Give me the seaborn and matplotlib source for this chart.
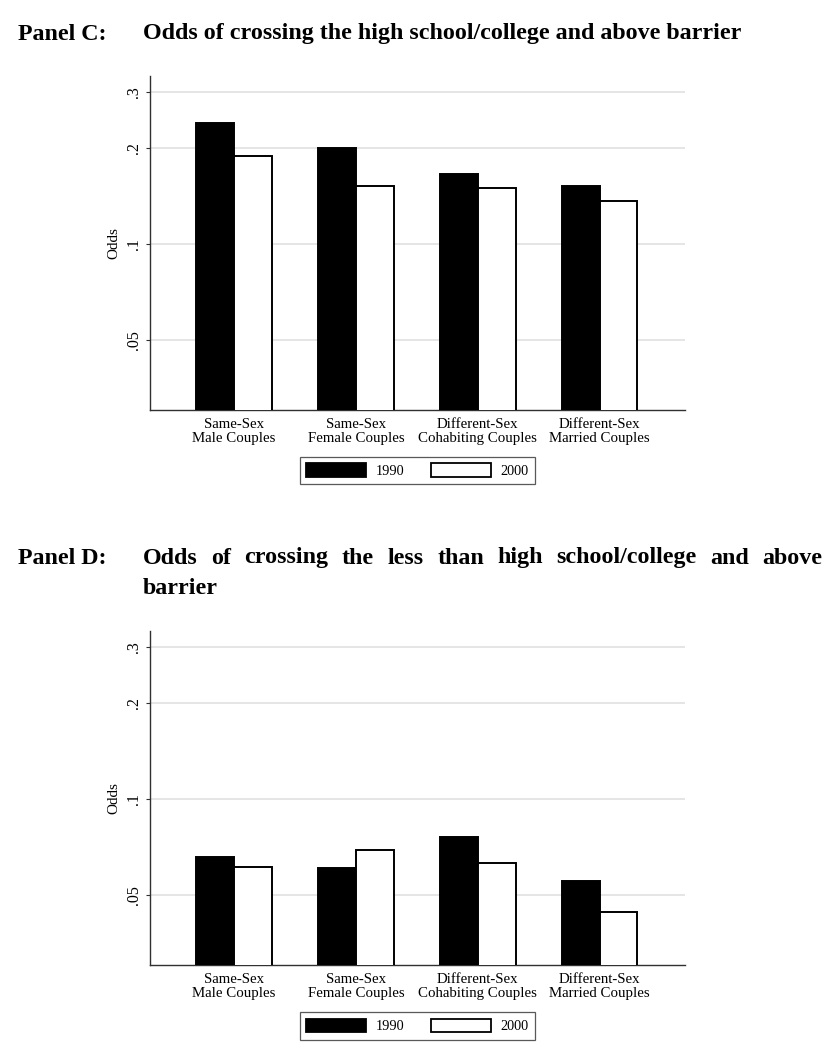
import matplotlib
matplotlib.use("Agg")
import matplotlib.pyplot as plt
from matplotlib.patches import Patch
from matplotlib.ticker import FixedLocator, FixedFormatter, NullLocator
import seaborn as sns
import pandas as pd

# ---------------- data ----------------
categories = ["Same-Sex\nMale Couples", "Same-Sex\nFemale Couples",
              "Different-Sex\nCohabiting Couples", "Different-Sex\nMarried Couples"]
years = ["1990", "2000"]
panel_c_1990 = [0.240, 0.200, 0.165, 0.152]
panel_c_2000 = [0.188, 0.152, 0.150, 0.136]
panel_d_1990 = [0.0657, 0.0606, 0.0757, 0.0552]
panel_d_2000 = [0.0612, 0.0690, 0.0627, 0.0441]
ytick_values = [0.05, 0.1, 0.2, 0.3]
ytick_labels = [".05", ".1", ".2", ".3"]
title_c_label = "Panel C:"
title_c = "Odds of crossing the high school/college and above barrier"
title_d_label = "Panel D:"
title_d_line1 = "Odds of crossing the less than high school/college and above"
title_d_line2 = "barrier"

sns.set_style("white")
plt.rcParams["font.family"] = ["Liberation Serif", "DejaVu Serif"]
plt.rcParams["text.color"] = "black"
plt.rcParams["axes.labelcolor"] = "black"
plt.rcParams["xtick.color"] = "black"
plt.rcParams["ytick.color"] = "black"

W, H = 835, 1050
fig = plt.figure(figsize=(W / 100, H / 100), dpi=100)
fig.patch.set_facecolor("white")

palette = {"1990": "black", "2000": "white"}


def make_df(v1990, v2000):
    rows = []
    for cat, a, b in zip(categories, v1990, v2000):
        rows.append({"category": cat, "year": "1990", "odds": a})
        rows.append({"category": cat, "year": "2000", "odds": b})
    return pd.DataFrame(rows)


def draw_panel(ax, v1990, v2000):
    df = make_df(v1990, v2000)
    sns.barplot(data=df, x="category", y="odds", hue="year", order=categories,
                hue_order=years, palette=palette, edgecolor="black",
                linewidth=1.4, width=0.62, gap=0,
                legend=False, ax=ax, zorder=3)
    ax.set_yscale("log")
    ax.set_ylim(0.0301, 0.336)
    ax.set_xlim(-0.69, 3.70)
    ax.yaxis.set_major_locator(FixedLocator(ytick_values))
    ax.yaxis.set_major_formatter(FixedFormatter(ytick_labels))
    ax.yaxis.set_minor_locator(NullLocator())
    ax.grid(axis="y", which="major", color="#dedede", linewidth=1.1, zorder=0)
    ax.grid(axis="x", visible=False)
    ax.set_axisbelow(True)
    for s in ["top", "right"]:
        ax.spines[s].set_visible(False)
    for s in ["left", "bottom"]:
        ax.spines[s].set_color("#303030")
        ax.spines[s].set_linewidth(1.0)
    ax.tick_params(axis="y", which="major", length=3, width=0.8, color="#303030",
                   pad=3, labelsize=11.5, left=True, labelcolor="black")
    ax.tick_params(axis="x", length=0, pad=6, labelsize=10.7, labelcolor="black")
    for lab in ax.get_yticklabels():
        lab.set_rotation(90)
        lab.set_va("center")
    for lab in ax.get_xticklabels():
        lab.set_linespacing(1.05)
    ax.set_xlabel("")
    ax.set_ylabel("Odds", fontsize=11, labelpad=4, color="black")


axC = fig.add_axes([150 / W, 1 - 410 / H, 535 / W, 334 / H])
axD = fig.add_axes([150 / W, 1 - 965 / H, 535 / W, 334 / H])
draw_panel(axC, panel_c_1990, panel_c_2000)
draw_panel(axD, panel_d_1990, panel_d_2000)

handles = [Patch(facecolor="black", edgecolor="black", linewidth=1.3),
           Patch(facecolor="white", edgecolor="black", linewidth=1.3)]
for ax, ycen in [(axC, 470.5), (axD, 1026)]:
    leg = fig.legend(handles, years, loc="center",
                     bbox_to_anchor=(417.5 / W, 1 - ycen / H), ncol=2,
                     fontsize=10.3, frameon=True, fancybox=False,
                     handlelength=4.2, handleheight=1.05, handletextpad=0.65,
                     columnspacing=1.9, borderpad=0.45, edgecolor="#303030",
                     labelcolor="black")
    leg.get_frame().set_linewidth(0.9)

title_kw = dict(fontsize=17.3, fontweight="bold", va="center", ha="left",
                family=["Liberation Serif"], color="black")
fig.text(18 / W, 1 - 34 / H, title_c_label, **title_kw)
fig.text(143 / W, 1 - 34 / H, title_c, **title_kw)
fig.text(18 / W, 1 - 558 / H, title_d_label, **title_kw)
fig.text(143 / W, 1 - 588 / H, title_d_line2, **title_kw)

# justified first line of panel D title
fig.canvas.draw()
renderer = fig.canvas.get_renderer()
words = title_d_line1.split(" ")
texts = [fig.text(0, 1 - 558 / H, w, **title_kw) for w in words]
widths = [t.get_window_extent(renderer).width for t in texts]
x0, x1 = 143, 822
gapw = (x1 - x0 - sum(widths)) / (len(words) - 1)
x = x0
for t, wd in zip(texts, widths):
    t.set_x(x / W)
    x += wd + gapw

fig.savefig("out.png", dpi=100, facecolor="white")
